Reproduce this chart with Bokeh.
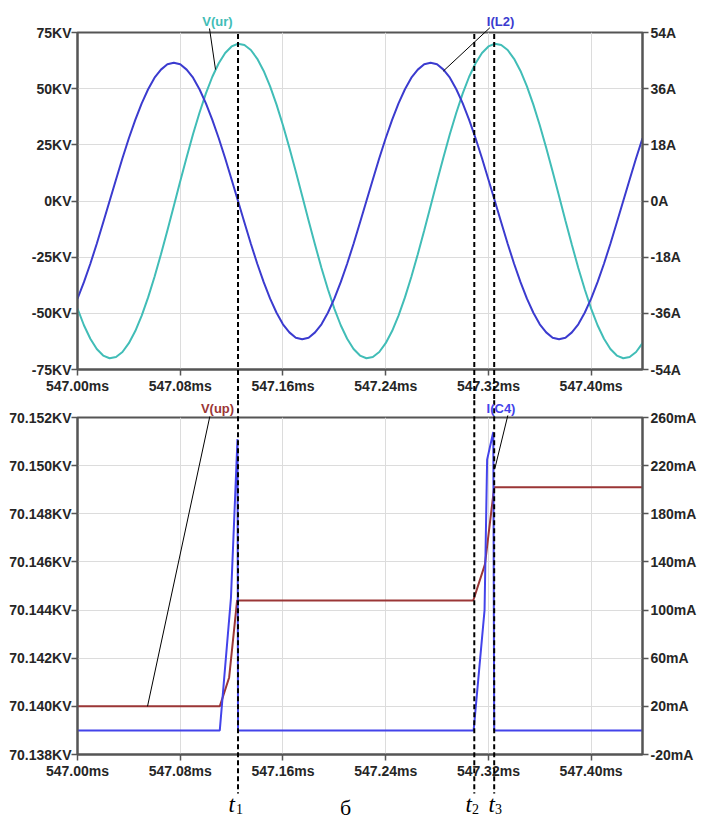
from bokeh.plotting import figure
from bokeh.models import Range1d, LinearAxis, FixedTicker
from bokeh.layouts import column
from bokeh.embed import file_html
from bokeh.resources import INLINE
from bokeh.core.properties import value

# ---------------- data ----------------
t_top = [547.000, 547.005, 547.010, 547.015, 547.020, 547.025, 547.030, 547.035, 547.040, 547.045,
         547.050, 547.055, 547.060, 547.065, 547.070, 547.075, 547.080, 547.085, 547.090, 547.095,
         547.100, 547.105, 547.110, 547.115, 547.120, 547.125, 547.130, 547.135, 547.140, 547.145,
         547.150, 547.155, 547.160, 547.165, 547.170, 547.175, 547.180, 547.185, 547.190, 547.195,
         547.200, 547.205, 547.210, 547.215, 547.220, 547.225, 547.230, 547.235, 547.240, 547.245,
         547.250, 547.255, 547.260, 547.265, 547.270, 547.275, 547.280, 547.285, 547.290, 547.295,
         547.300, 547.305, 547.310, 547.315, 547.320, 547.325, 547.330, 547.335, 547.340, 547.345,
         547.350, 547.355, 547.360, 547.365, 547.370, 547.375, 547.380, 547.385, 547.390, 547.395,
         547.400, 547.405, 547.410, 547.415, 547.420, 547.425, 547.430, 547.435, 547.440]
v_ur_kv = [-47.9, -55.3, -61.3, -65.9, -68.8, -70.0, -69.4, -67.2, -63.3, -57.9,
           -51.0, -42.9, -33.7, -23.7, -13.1, -2.2, 8.8, 19.5, 29.8, 39.3,
           47.9, 55.3, 61.3, 65.9, 68.8, 70.0, 69.4, 67.2, 63.3, 57.9,
           51.0, 42.9, 33.7, 23.7, 13.1, 2.2, -8.8, -19.5, -29.8, -39.3,
           -47.9, -55.3, -61.3, -65.9, -68.8, -70.0, -69.4, -67.2, -63.3, -57.9,
           -51.0, -42.9, -33.7, -23.7, -13.1, -2.2, 8.8, 19.5, 29.8, 39.3,
           47.9, 55.3, 61.3, 65.9, 68.8, 70.0, 69.4, 67.2, 63.3, 57.9,
           51.0, 42.9, 33.7, 23.7, 13.1, 2.2, -8.8, -19.5, -29.8, -39.3,
           -47.9, -55.3, -61.3, -65.9, -68.8, -70.0, -69.4, -67.2, -63.3]
i_l2_a = [-31.3, -26.0, -20.1, -13.7, -6.9, 0.0, 6.9, 13.7, 20.1, 26.0,
          31.3, 35.8, 39.5, 42.1, 43.8, 44.3, 43.8, 42.1, 39.5, 35.8,
          31.3, 26.0, 20.1, 13.7, 6.9, 0.0, -6.9, -13.7, -20.1, -26.0,
          -31.3, -35.8, -39.5, -42.1, -43.8, -44.3, -43.8, -42.1, -39.5, -35.8,
          -31.3, -26.0, -20.1, -13.7, -6.9, 0.0, 6.9, 13.7, 20.1, 26.0,
          31.3, 35.8, 39.5, 42.1, 43.8, 44.3, 43.8, 42.1, 39.5, 35.8,
          31.3, 26.0, 20.1, 13.7, 6.9, 0.0, -6.9, -13.7, -20.1, -26.0,
          -31.3, -35.8, -39.5, -42.1, -43.8, -44.3, -43.8, -42.1, -39.5, -35.8,
          -31.3, -26.0, -20.1, -13.7, -6.9, 0.0, 6.9, 13.7, 20.1]

t_vup = [547.000, 547.1108, 547.1181, 547.1243, 547.3082, 547.3173, 547.3245, 547.440]
v_up_kv = [70.1400, 70.1400, 70.1412, 70.1444, 70.1444, 70.1459, 70.1491, 70.1491]

t_ic4 = [547.000, 547.1108, 547.1195, 547.1246, 547.1250,
         547.3085, 547.3170, 547.3190, 547.3238, 547.3245, 547.440]
i_c4_ma = [0, 0, 110, 242, 0,
           0, 100, 225, 248, 0, 0]

t_marks = [547.125, 547.309, 547.3245]
mark_names = ["1", "2", "3"]

x_ticks = [547.00, 547.08, 547.16, 547.24, 547.32, 547.40]
x_labels = ["547.00ms", "547.08ms", "547.16ms", "547.24ms", "547.32ms", "547.40ms"]
top_l_ticks = [-75, -50, -25, 0, 25, 50, 75]
top_l_labels = ["-75KV", "-50KV", "-25KV", "0KV", "25KV", "50KV", "75KV"]
top_r_ticks = [-54, -36, -18, 0, 18, 36, 54]
top_r_labels = ["-54A", "-36A", "-18A", "0A", "18A", "36A", "54A"]
bot_l_ticks = [70.138, 70.140, 70.142, 70.144, 70.146, 70.148, 70.150, 70.152]
bot_l_labels = ["70.138KV", "70.140KV", "70.142KV", "70.144KV", "70.146KV",
                "70.148KV", "70.150KV", "70.152KV"]
bot_r_ticks = [-20, 20, 60, 100, 140, 180, 220, 260]
bot_r_labels = ["-20mA", "20mA", "60mA", "100mA", "140mA", "180mA", "220mA", "260mA"]

# ---------------- style ----------------
FONT = "Liberation Sans"
SERIF = "Liberation Serif"
AXC = "#555555"
TXT = "#262626"
GRID = "#dcdcdc"
C_UR = "#41bdb7"
C_L2 = "#3b3bcf"
C_UP = "#9b3636"
C_C4 = "#4343ea"

X0, X1 = 547.00, 547.44
FW, FH = 565, 337
BL, BR = 77, 55


def style_axis(ax, ticks, labels, standoff):
    ax.ticker = FixedTicker(ticks=ticks)
    ax.major_label_overrides = {t: l for t, l in zip(ticks, labels)}
    ax.axis_line_color = AXC
    ax.axis_line_width = 2
    ax.major_tick_line_color = AXC
    ax.major_tick_line_width = 1.5
    ax.major_tick_out = 6
    ax.major_tick_in = 0
    ax.minor_tick_line_color = None
    ax.major_label_standoff = standoff
    ax.major_label_text_font = FONT
    ax.major_label_text_font_size = "14px"
    ax.major_label_text_font_style = "bold"
    ax.major_label_text_color = TXT


def make_fig(y0, y1, r0, r1, yt, yl, rt, rl, btop, bbot):
    p = figure(frame_width=FW, frame_height=FH, x_range=Range1d(X0, X1),
               y_range=Range1d(y0, y1), output_backend="svg", toolbar_location=None,
               min_border_left=BL, min_border_right=BR, min_border_top=btop,
               min_border_bottom=bbot, title=None)
    p.extra_y_ranges = {"r": Range1d(r0, r1)}
    p.add_layout(LinearAxis(y_range_name="r"), "right")
    style_axis(p.xaxis[0], x_ticks, x_labels, 2)
    style_axis(p.yaxis[0], yt, yl, 0)
    style_axis(p.yaxis[1], rt, rl, 2)
    p.xgrid.ticker = FixedTicker(ticks=x_ticks)
    p.ygrid.ticker = FixedTicker(ticks=yt)
    for g in (p.xgrid[0], p.ygrid[0]):
        g.grid_line_color = GRID
        g.grid_line_width = 1
    p.outline_line_color = AXC
    p.outline_line_width = 2
    p.outline_line_alpha = 1
    p.background_fill_color = "white"
    p.border_fill_color = "white"
    return p


def put_text(p, x, y, txt, color, font, size, style="normal", align="center",
             baseline="middle", y_range_name="default"):
    p.text(x=x, y=y, text=txt, text_color=color, text_font=value(font),
           text_font_size=value(size), text_font_style=value(style),
           text_align=value(align), text_baseline=value(baseline),
           level="overlay", y_range_name=y_range_name)


# frame positions on the page (px)
FRAME_L = 77
TOP_FT = 32          # top frame top
BOT_FT = 417         # bottom frame top


def dx(px):
    return X0 + (px - FRAME_L) * (X1 - X0) / FW


def dy_top(py):
    return 75 - (py - TOP_FT) * 150 / FH


def dy_bot(py):
    return 70.152 - (py - BOT_FT) * 0.014 / FH


# ---------------- top figure ----------------
top = make_fig(-75, 75, -54, 54, top_l_ticks, top_l_labels, top_r_ticks, top_r_labels,
               32, 30)
top.line(t_top, v_ur_kv, line_color=C_UR, line_width=2)
top.line(t_top, i_l2_a, line_color=C_L2, line_width=2, y_range_name="r")

top.segment(x0=t_marks, y0=[dy_top(33.5)] * 3, x1=t_marks, y1=[-120] * 3,
            line_color="black", line_width=2, line_dash="5 3", level="overlay")
# pointer lines for trace names
top.segment(x0=[dx(209)], y0=[dy_top(28)], x1=[dx(215)], y1=[58.5],
            line_color="black", line_width=1, level="overlay")
top.segment(x0=[dx(489.3)], y0=[dy_top(27.3) * 54 / 75], x1=[dx(442.7)], y1=[41.6],
            line_color="black", line_width=1, level="overlay", y_range_name="r")
put_text(top, [dx(217)], [dy_top(21)], ["V(ur)"], C_UR, FONT, "13px", "bold")
put_text(top, [dx(500)], [dy_top(21)], ["I(L2)"], C_L2, FONT, "13px", "bold")

# ---------------- bottom figure ----------------
bot = make_fig(70.138, 70.152, -20, 260, bot_l_ticks, bot_l_labels, bot_r_ticks,
               bot_r_labels, 18, 69)
bot.line(t_vup, v_up_kv, line_color=C_UP, line_width=2)
bot.line(t_ic4, i_c4_ma, line_color=C_C4, line_width=2, y_range_name="r")

bot.segment(x0=t_marks, y0=[70.17] * 3, x1=t_marks, y1=[dy_bot(793)] * 3,
            line_color="black", line_width=2, line_dash="5 3", level="overlay")
bot.segment(x0=[dx(209.3)], y0=[dy_bot(416)], x1=[dx(147)], y1=[70.1400],
            line_color="black", line_width=1, level="overlay")
bot.segment(x0=[dx(507.3)], y0=[261.7], x1=[dx(494.3)], y1=[217.4],
            line_color="black", line_width=1, level="overlay", y_range_name="r")
put_text(bot, [dx(217)], [dy_bot(407.5)], ["V(up)"], C_UP, FONT, "13px", "bold")
put_text(bot, [dx(500.5)], [dy_bot(407.5)], ["I(C4)"], C_C4, FONT, "13px", "bold")

put_text(bot, [dx(228), dx(465), dx(488)], [dy_bot(804)] * 3, ["t", "t", "t"],
         "black", SERIF, "23px", "italic", "left", "alphabetic")
put_text(bot, [dx(235.5), dx(471.5), dx(494.5)], [dy_bot(808)] * 3, mark_names,
         "black", SERIF, "14px", "normal", "left", "alphabetic")
put_text(bot, [dx(345)], [dy_bot(807)], ["б"], "black", SERIF, "22px", "normal",
         "center", "alphabetic")

layout = column(top, bot, spacing=0)
open("out.html", "w").write(file_html(layout, INLINE))
